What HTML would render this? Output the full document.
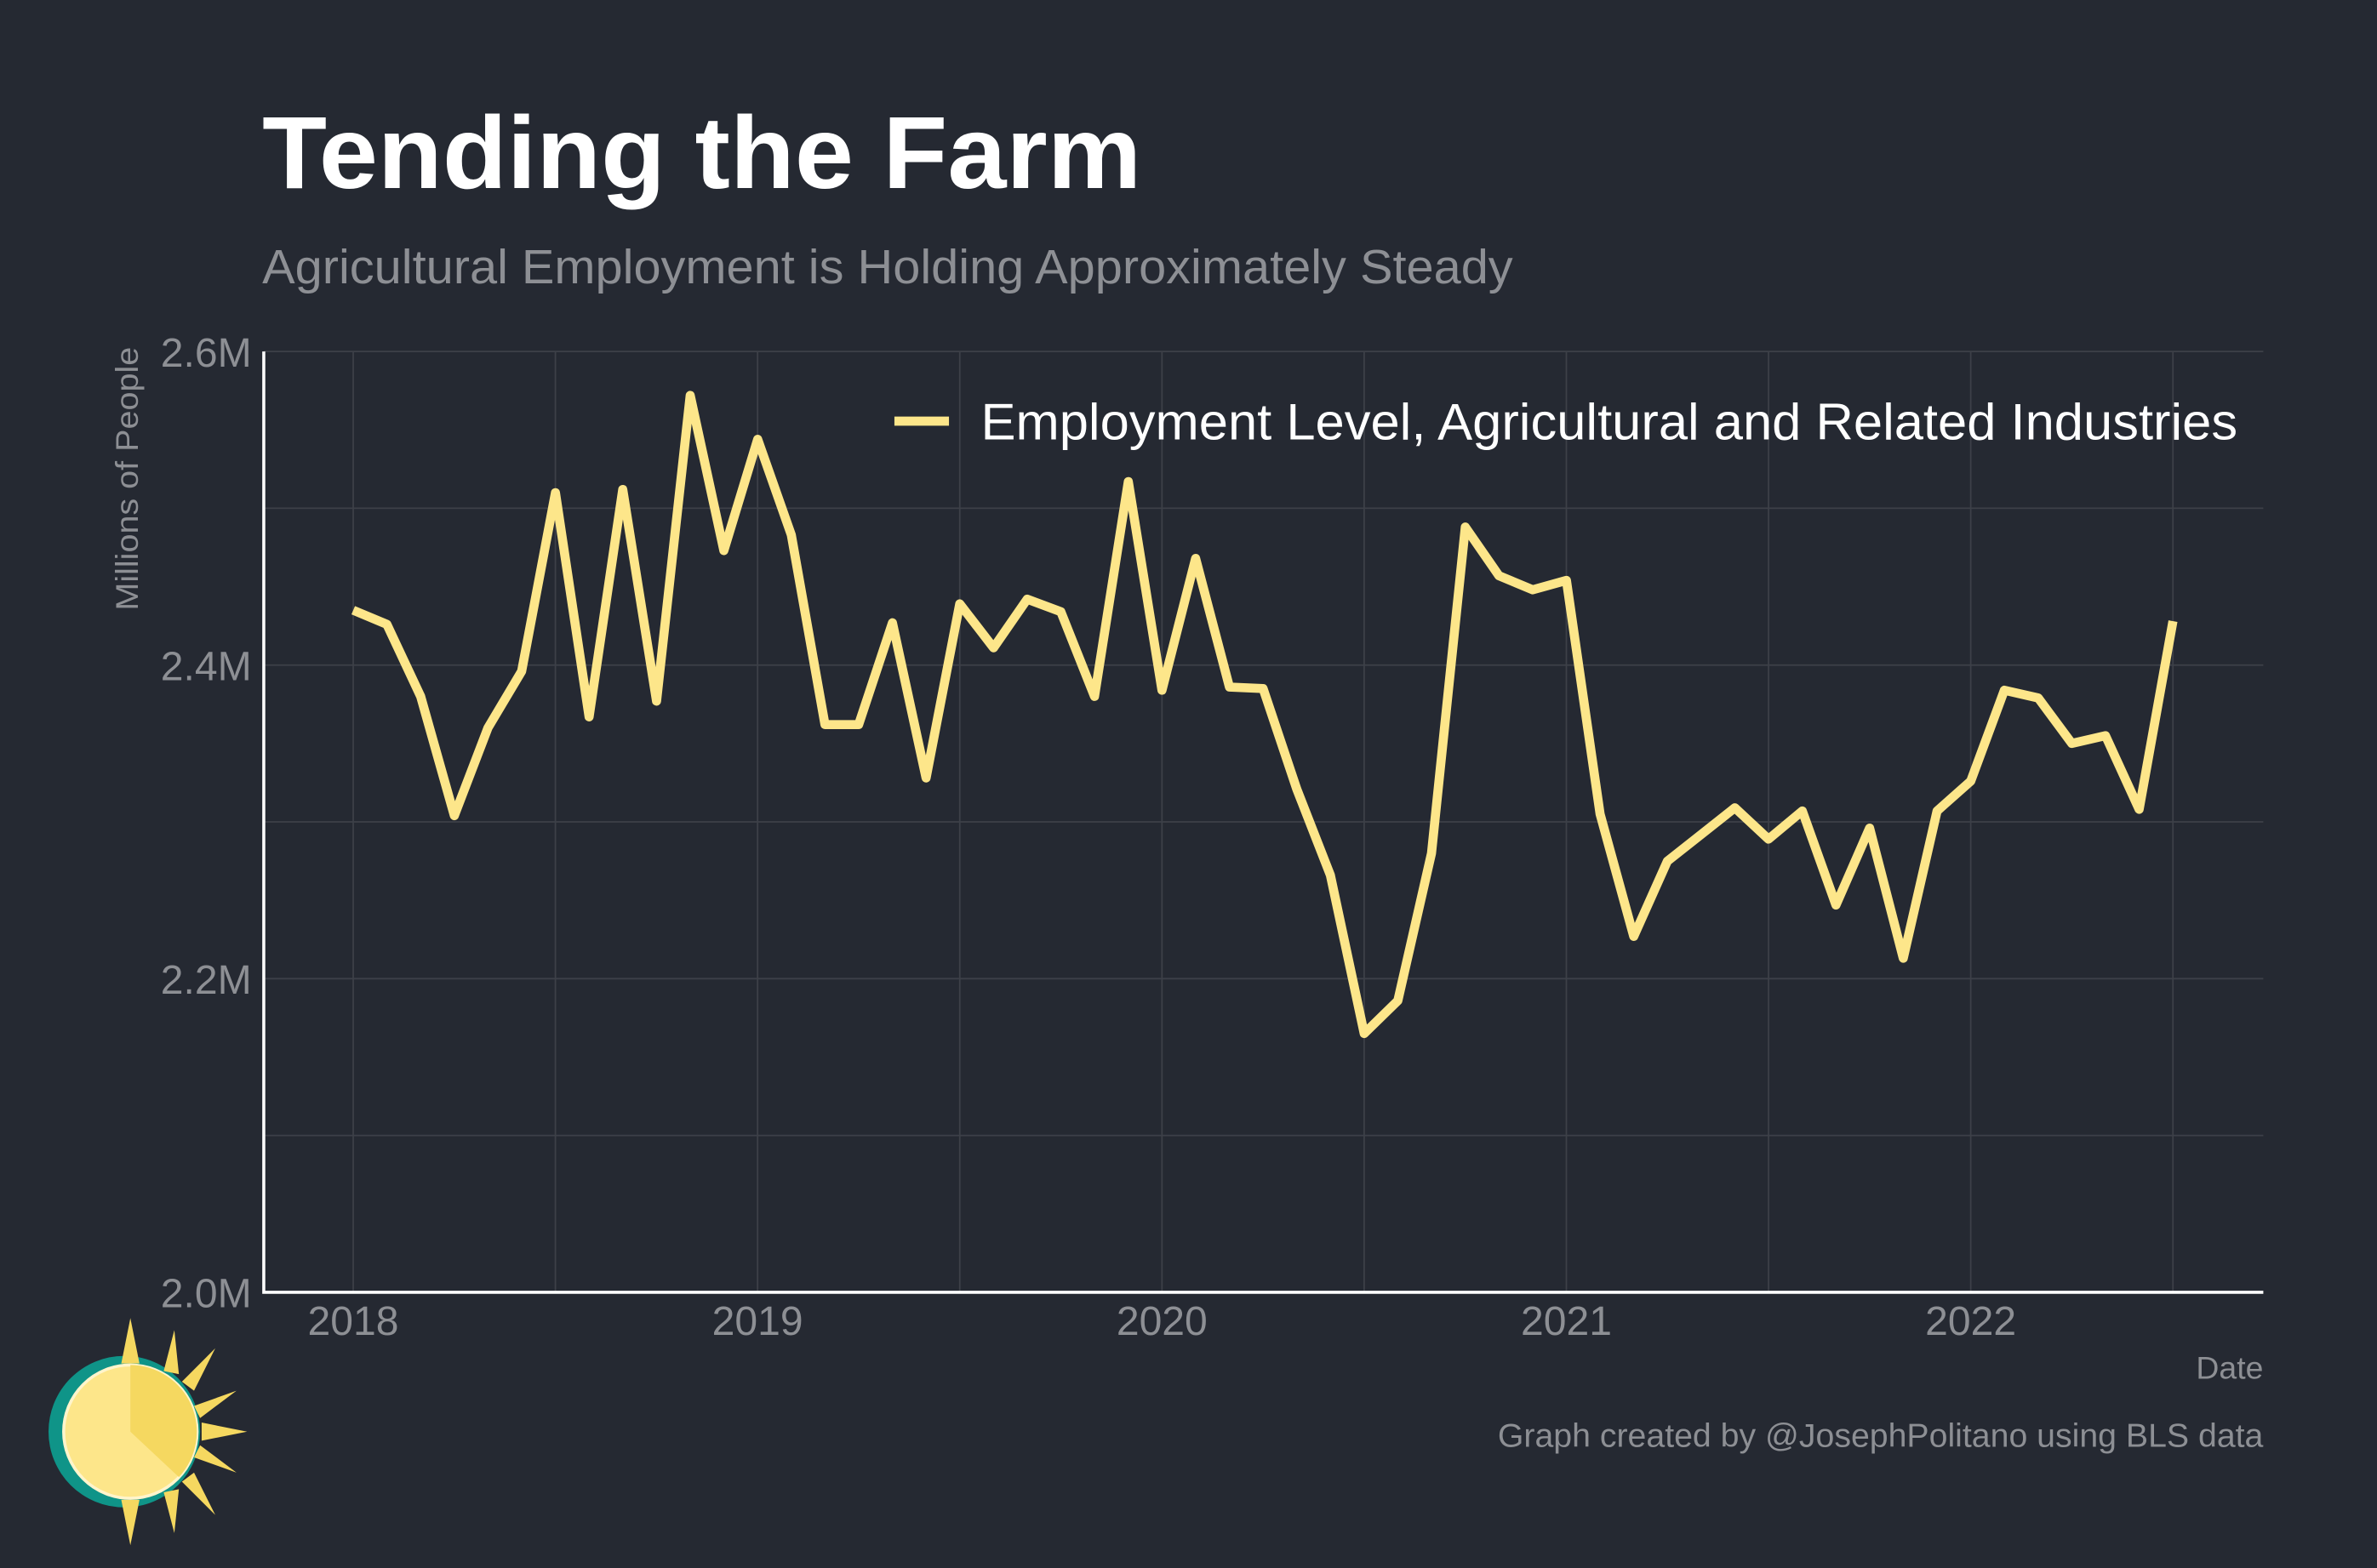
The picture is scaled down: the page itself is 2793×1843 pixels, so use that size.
<!DOCTYPE html>
<html><head><meta charset="utf-8"><style>
html,body{margin:0;padding:0;background:#252932;}
svg{display:block;font-family:"Liberation Sans",Arial,sans-serif;}
</style></head><body>
<svg id="chart" width="2793" height="1843" viewBox="0 0 1568 1035" preserveAspectRatio="none" xmlns="http://www.w3.org/2000/svg">
<rect width="1568" height="1035" fill="#252932"/>
<text x="173" y="124" font-size="68" font-weight="bold" fill="#ffffff" textLength="580" lengthAdjust="spacingAndGlyphs">Tending the Farm</text>
<text x="173" y="187" font-size="32" fill="#8d8f94" textLength="825" lengthAdjust="spacingAndGlyphs">Agricultural Employment is Holding Approximately Steady</text>
<g id="grid"></g>
<g id="axes"></g>
<path id="line" fill="none" stroke="#fde68a" stroke-width="6" stroke-linejoin="round"/>
<g>
<line x1="590" y1="278" x2="626" y2="278" stroke="#fde68a" stroke-width="6"/>
<text x="647" y="290" font-size="34" fill="#ffffff" textLength="829" lengthAdjust="spacingAndGlyphs">Employment Level, Agricultural and Related Industries</text>
</g>
<text transform="translate(91,316) rotate(-90)" text-anchor="middle" font-size="21" fill="#8d8f94" textLength="174" lengthAdjust="spacingAndGlyphs">Millions of People</text>
<text x="1493" y="910" text-anchor="end" font-size="21" fill="#8d8f94">Date</text>
<text x="988" y="955" font-size="22" fill="#8d8f94" textLength="505" lengthAdjust="spacingAndGlyphs">Graph created by @JosephPolitano using BLS data</text>
<g>
<circle cx="82" cy="945" r="50" fill="#0f9488"/>
<g fill="#f5d860">
<polygon points="86,870 92,900 80,900"/><polygon points="86,1020 92,990 80,990"/>
<polygon points="163,945 133,939 133,951"/><polygon points="142,890 120,912 128,918"/>
<polygon points="142,1000 120,978 128,972"/><polygon points="115,878 108,905 118,907"/>
<polygon points="115,1012 108,985 118,983"/><polygon points="156,918 128,928 132,936"/>
<polygon points="156,972 128,962 132,954"/>
</g>
<circle cx="86" cy="945" r="44" fill="#fde68a" stroke="#fff5cc" stroke-width="2"/>
<path d="M86,945 L86,901 A44,44 0 0,1 118,975 Z" fill="#f5d860"/>
</g>
<g id="ticks"></g>
</svg>
<script>
const values = [2.435,2.426,2.380,2.304,2.360,2.396,2.510,2.367,2.512,2.377,2.572,2.473,
2.544,2.483,2.362,2.362,2.427,2.328,2.439,2.411,2.442,2.434,2.380,2.517,
2.384,2.468,2.386,2.385,2.321,2.266,2.165,2.186,2.280,2.488,2.457,2.448,
2.454,2.305,2.227,2.275,2.292,2.309,2.289,2.307,2.247,2.296,2.213,2.307,
2.326,2.384,2.379,2.350,2.355,2.308,2.428];
const startYear = 2018;
const xTickLabels = ["2018","2019","2020","2021","2022"];
const yTickValues = [2.0,2.2,2.4,2.6];
const yTickLabels = ["2.0M","2.2M","2.4M","2.6M"];
const yGridValues = [2.1,2.3,2.5];
const ns="http://www.w3.org/2000/svg";
const X0=174,X1=1493,Y0=853,Y1=232;
function xs(t){return 233+(t-2018)*(1300-233)/4;}
function ys(v){return Y0-(v-2.0)/(0.6)*(Y0-Y1);}
function mk(tag,attrs,parent){const e=document.createElementNS(ns,tag);for(const k in attrs)e.setAttribute(k,attrs[k]);parent.appendChild(e);return e;}
const grid=document.getElementById('grid'),ticks=document.getElementById('ticks'),axes=document.getElementById('axes');
for(let t=2018;t<=2022.5;t+=0.5){const g=mk('line',{x1:xs(t),x2:xs(t),y1:Y1,y2:Y0,stroke:'#3d4048','stroke-width':1},grid);

}
yTickValues.concat(yGridValues).forEach(v=>{const g=mk('line',{x1:X0,x2:X1,y1:ys(v),y2:ys(v),stroke:'#3d4048','stroke-width':1},grid);

});
xTickLabels.forEach((l,i)=>{const t=mk('text',{x:xs(+l),y:881,'text-anchor':'middle','font-size':27,fill:'#8d8f94'},ticks);t.textContent=l;

});
yTickValues.forEach((v,i)=>{const t=mk('text',{x:166,y:ys(v)+10,'text-anchor':'end','font-size':27,fill:'#8d8f94'},ticks);t.textContent=yTickLabels[i];

});
const ax=mk('path',{d:`M${X0},${Y1} L${X0},${Y0} L${X1},${Y0}`,fill:'none',stroke:'#ffffff','stroke-width':2},axes);


let d='';values.forEach((v,i)=>{d+=(i?'L':'M')+xs(startYear+i/12).toFixed(1)+','+ys(v).toFixed(1);});
document.getElementById('line').setAttribute('d',d);
</script>
</body></html>
